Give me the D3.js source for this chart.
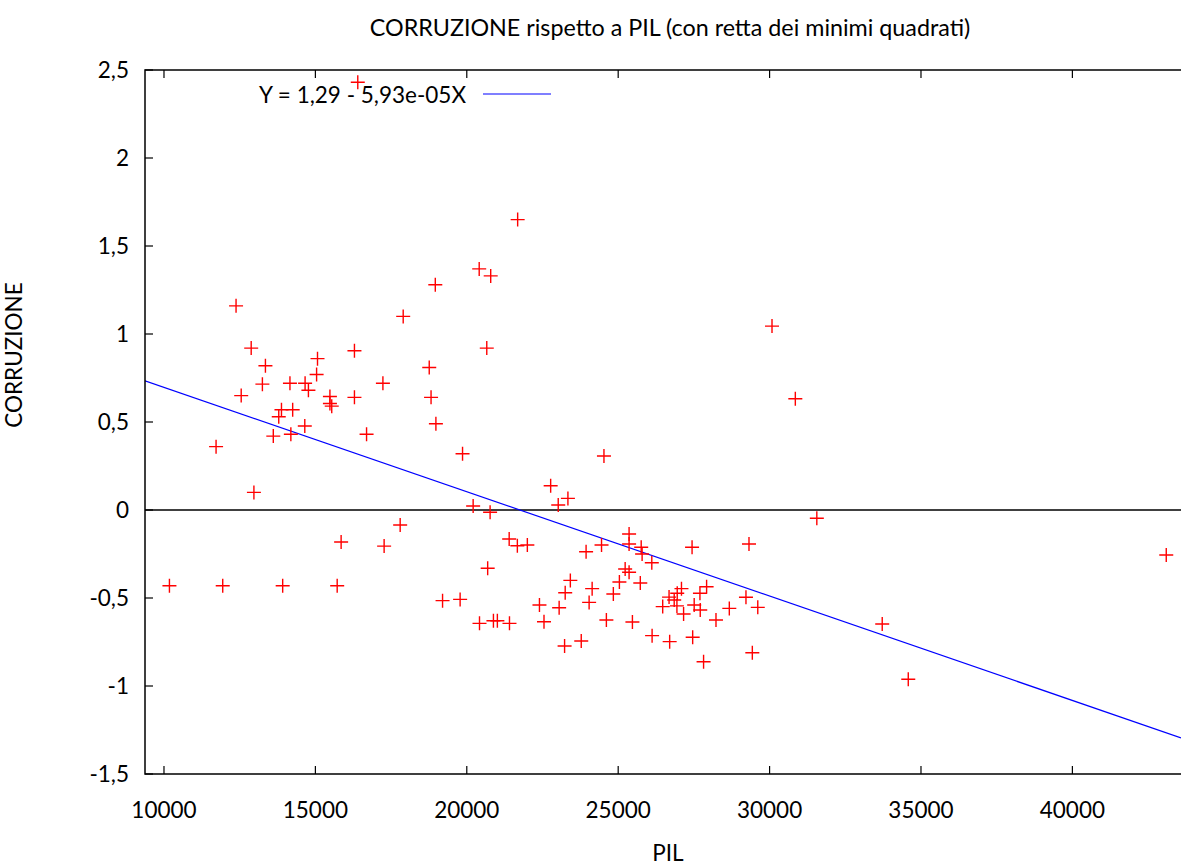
<!DOCTYPE html>
<html>
<head>
<meta charset="utf-8">
<script src="https://cdn.jsdelivr.net/npm/d3@7"></script>
<style>
  html, body { margin: 0; padding: 0; background: #fff; }
  svg { display: block; }
  text { font-family: Lato, "Open Sans", sans-serif; fill: #000; }
</style>
</head>
<body>
<svg id="chart" width="1181" height="868"></svg>
<script>
// ---- data ----
const title = "CORRUZIONE rispetto a PIL (con retta dei minimi quadrati)";
const xLabel = "PIL";
const yLabel = "CORRUZIONE";
const legendLabel = "Y = 1,29 - 5,93e-05X";
const intercept = 1.29;
const slope = -5.93e-05;

const pil = [
  16400, 21680, 20410, 20790, 18960, 12380, 17900, 20660, 12880, 13350,
  15070, 16290, 18760, 15040, 13250, 14160, 14660, 14770, 17230, 12550,
  15480, 15480, 15540, 16290, 18820, 13880, 14250, 13790, 18980, 14650,
  13610, 14190, 16690, 11720, 19860, 12970, 22770, 23020, 20210, 20770,
  17800, 30080, 30850, 24530, 23340, 31560,
  25360, 25360, 21400, 21670, 22000, 24450, 23940, 27440, 29320, 25760,
  25790, 26110, 20690, 25230, 25360, 23420, 25040, 25730, 24140, 23250,
  24840, 27920, 27700, 27090, 26950, 26680, 26850, 26470, 26940, 27510,
  27710, 27160, 28230, 28670, 29220, 29610, 10180, 11940, 13920, 15720,
  15850, 17270, 19200, 19780, 22400, 24040, 23050, 20420, 20880, 21010,
  21410, 22550, 24610, 25470, 26120, 26700, 27460, 23230, 23780, 27820,
  29430, 33720, 34580, 43100
];
const corruzione = [
  2.43, 1.65, 1.37, 1.33, 1.28, 1.16, 1.10, 0.92, 0.92, 0.82,
  0.86, 0.905, 0.81, 0.77, 0.715, 0.72, 0.72, 0.68, 0.72, 0.65,
  0.645, 0.605, 0.59, 0.64, 0.64, 0.57, 0.57, 0.53, 0.49, 0.477,
  0.42, 0.43, 0.43, 0.36, 0.32, 0.10, 0.138, 0.028, 0.023, -0.013,
  -0.085, 1.045, 0.632, 0.307, 0.066, -0.047,
  -0.136, -0.193, -0.165, -0.203, -0.199, -0.199, -0.237, -0.212, -0.193, -0.212,
  -0.25, -0.30, -0.331, -0.335, -0.354, -0.40, -0.409, -0.415, -0.447, -0.470,
  -0.477, -0.436, -0.473, -0.447, -0.473, -0.495, -0.511, -0.549, -0.545, -0.54,
  -0.568, -0.591, -0.625, -0.559, -0.496, -0.553, -0.43, -0.43, -0.43, -0.43,
  -0.182, -0.205, -0.515, -0.508, -0.54, -0.525, -0.555, -0.644, -0.629, -0.629,
  -0.644, -0.635, -0.625, -0.636, -0.714, -0.748, -0.723, -0.773, -0.744, -0.862,
  -0.811, -0.648, -0.962, -0.256
];
const xTicks = [10000, 15000, 20000, 25000, 30000, 35000, 40000];
const yTicks = [-1.5, -1, -0.5, 0, 0.5, 1, 1.5, 2, 2.5];
const xDomain = [9373, 43587];
const yDomain = [-1.5, 2.5];

// ---- layout ----
const svg = d3.select("#chart");
const L = 145, R = 1181, T = 70, B = 774;
const x = d3.scaleLinear().domain(xDomain).range([L, R]);
const y = d3.scaleLinear().domain(yDomain).range([B, T]);
const fmt = d => String(d).replace(".", ",");
const fs = "22.5px";

// title
svg.append("text").attr("x", 670).attr("y", 36).attr("text-anchor", "middle")
  .style("font-size", "23.3px").text(title);

// axis labels
svg.append("text").attr("x", 668).attr("y", 861).attr("text-anchor", "middle")
  .style("font-size", fs).text(xLabel);
svg.append("text").attr("transform", "translate(22,355) rotate(-90)")
  .attr("text-anchor", "middle").style("font-size", fs).text(yLabel);

// clip
svg.append("clipPath").attr("id", "clip").append("rect")
  .attr("x", L).attr("y", T).attr("width", R - L).attr("height", B - T);

// ticks (inward, mirrored)
const tickLen = 8;
const axG = svg.append("g").attr("stroke", "#000").attr("stroke-width", 1.2);
xTicks.forEach(t => {
  axG.append("line").attr("x1", x(t)).attr("x2", x(t)).attr("y1", B).attr("y2", B - tickLen);
  axG.append("line").attr("x1", x(t)).attr("x2", x(t)).attr("y1", T).attr("y2", T + tickLen);
});
yTicks.forEach(t => {
  axG.append("line").attr("x1", L).attr("x2", L + tickLen).attr("y1", y(t)).attr("y2", y(t));
});

// tick labels
svg.append("g").selectAll("text").data(xTicks).join("text")
  .attr("x", d => x(d)).attr("y", 818).attr("text-anchor", "middle")
  .style("font-size", fs).text(d => d);
svg.append("g").selectAll("text").data(yTicks).join("text")
  .attr("x", 129).attr("y", d => y(d) + 8).attr("text-anchor", "end")
  .style("font-size", fs).text(fmt);

// zero line
svg.append("line").attr("x1", L).attr("x2", R).attr("y1", y(0)).attr("y2", y(0))
  .attr("stroke", "#000").attr("stroke-width", 1.5);

// regression line
const plot = svg.append("g").attr("clip-path", "url(#clip)");
plot.append("line")
  .attr("x1", x(xDomain[0])).attr("y1", y(intercept + slope * xDomain[0]))
  .attr("x2", x(xDomain[1])).attr("y2", y(intercept + slope * xDomain[1]))
  .attr("stroke", "#0000ff").attr("stroke-width", 1.2);

// points
const pts = pil.map((v, i) => [v, corruzione[i]]);
const arm = 7;
plot.append("g").selectAll("path").data(pts).join("path")
  .attr("d", d => {
    const px = x(d[0]), py = y(d[1]);
    return `M${px - arm},${py}H${px + arm}M${px},${py - arm}V${py + arm}`;
  })
  .attr("stroke", "#ff0000").attr("stroke-width", 1.4).attr("fill", "none");

// frame
svg.append("path")
  .attr("d", `M${R},${T}H${L}V${B}H${R}`)
  .attr("fill", "none").attr("stroke", "#000").attr("stroke-width", 1.5);

// legend
svg.append("text").attr("x", 466).attr("y", 103).attr("text-anchor", "end")
  .style("font-size", fs).text(legendLabel);
svg.append("line").attr("x1", 483).attr("x2", 551).attr("y1", 94).attr("y2", 94)
  .attr("stroke", "#0000ff").attr("stroke-width", 1.2);
</script>
</body>
</html>
